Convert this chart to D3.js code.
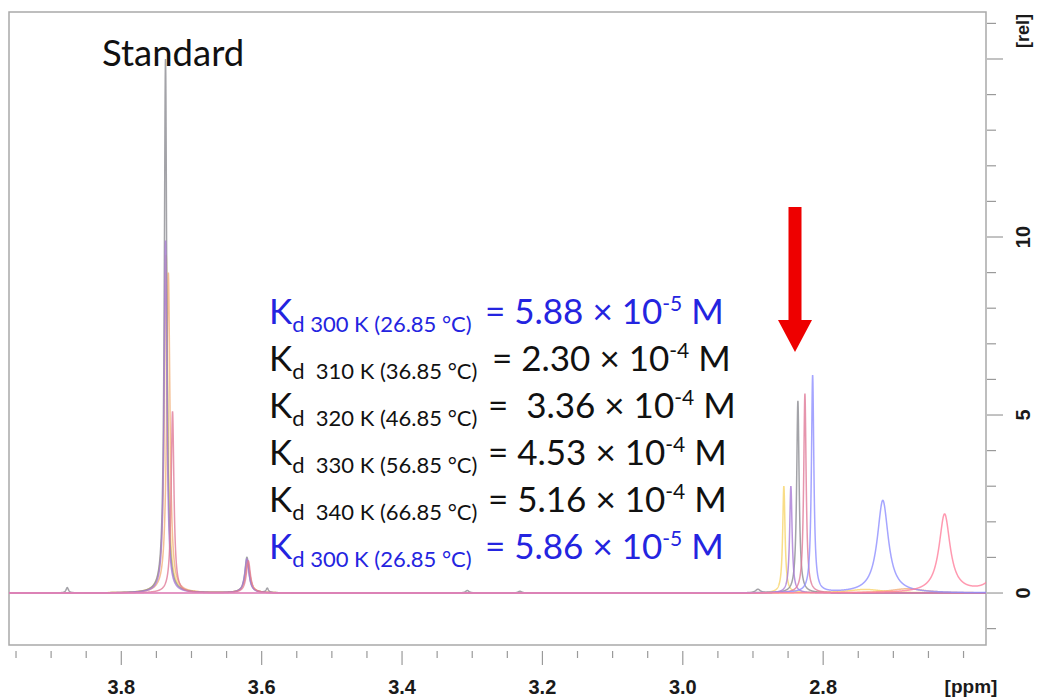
<!DOCTYPE html>
<html><head><meta charset="utf-8">
<script src="https://cdn.jsdelivr.net/npm/d3@7"></script>
<style>
html,body{margin:0;padding:0;background:#fff;}
svg{display:block;}
text{white-space:pre;}
</style></head>
<body>
<svg id="c" width="1039" height="700"></svg>
<script>
// ---- data (ppm, height [rel], half-width [ppm]) ----
const greyPeaks   = [[3.737,15.0,0.0021],[3.621,1.0,0.0035],[3.877,0.15,0.002],[3.592,0.12,0.002],[3.307,0.07,0.003],[3.232,0.05,0.003],[2.893,0.1,0.004],[2.836,5.4,0.0021]];
const purplePeaks = [[3.737,9.9,0.0023],[3.621,0.95,0.0035],[2.846,3.0,0.0021]];
const pinkPeaks   = [[3.727,5.1,0.0024],[3.619,0.9,0.0035],[2.826,5.6,0.0021]];
const yellowPeaks = [[3.736,9.5,0.0028],[3.620,0.9,0.0038],[2.856,3.0,0.002],[2.74,0.1,0.03]];
const orangePeaks = [[3.733,9.0,0.0028],[3.620,0.85,0.004],[2.68,0.12,0.03]];
const bluePeaks   = [[2.815,6.1,0.0021],[2.715,2.6,0.0095]];
const redPeaks    = [[2.627,2.2,0.0095],[2.545,1.5,0.01]];
const spectra = [
  {name:"yellow", peaks:yellowPeaks, color:"#f7d56a"},
  {name:"orange", peaks:orangePeaks, color:"#f2b07a"},
  {name:"grey",   peaks:greyPeaks,   color:"#8c8c92"},
  {name:"purple", peaks:purplePeaks, color:"#a97ad6"},
  {name:"pink",   peaks:pinkPeaks,   color:"#e07a98"},
  {name:"blue",   peaks:bluePeaks,   color:"#8e8eff"},
  {name:"red",    peaks:redPeaks,    color:"#ff7f9c"}
];
const xTicksMajor = [3.8,3.6,3.4,3.2,3.0,2.8];
const xTickLabels = ["3.8","3.6","3.4","3.2","3.0","2.8"];
const yTicksMajor = [0,5,10,15];
const yTickLabels = ["0","5","10",""];
const kdTemps = ["d 300 K (26.85 °C)","d  310 K (36.85 °C)","d  320 K (46.85 °C)","d  330 K (56.85 °C)","d  340 K (66.85 °C)","d 300 K (26.85 °C)"];
const kdMant  = ["= 5.88 × 10","= 2.30 × 10","=  3.36 × 10","= 4.53 × 10","= 5.16 × 10","= 5.86 × 10"];
const kdExp   = ["-5","-4","-4","-4","-4","-5"];
const kdBlue  = [true,false,false,false,false,true];

// ---- layout ----
const L=9, R=986, T=12, B=645;
const svg = d3.select("#c");
const x = d3.scaleLinear().domain([3.96,2.568]).range([L,R]);
const y = d3.scaleLinear().domain([-1.46,16.32]).range([B,T]);

svg.append("defs").append("clipPath").attr("id","clip")
  .append("rect").attr("x",L).attr("y",T).attr("width",R-L).attr("height",B-T);

// frame
svg.append("rect").attr("x",L).attr("y",T).attr("width",R-L).attr("height",B-T)
  .attr("fill","none").attr("stroke","#a9a9a9").attr("stroke-width",1.5);

// spectra: Lorentzian line shapes from the peak lists
const grid = d3.range(2.55,3.975,0.0002);
function shape(peaks){
  return grid.map(p=>{
    let v=0; for(const [c,h,w] of peaks){ const d=p-c; v+=h*w*w/(d*d+w*w);} return [p,v];
  });
}
const line = d3.line().x(d=>x(d[0])).y(d=>y(d[1]));
const g = svg.append("g").attr("clip-path","url(#clip)");
spectra.forEach(s=>{
  g.append("path").datum(shape(s.peaks)).attr("d",line)
    .attr("fill","none").attr("stroke",s.color).attr("stroke-width",1.5).attr("stroke-opacity",0.8);
});

// bottom axis
const xMinor = d3.range(3.95,2.57,-0.05).map(v=>+v.toFixed(2));
const xa = svg.append("g");
xa.selectAll("line.mi").data(xMinor).join("line")
  .attr("x1",d=>x(d)).attr("x2",d=>x(d)).attr("y1",B+6).attr("y2",d=>xTicksMajor.some(m=>Math.abs(m-d)<1e-6)?B+20:B+13)
  .attr("stroke","#9a9a9a").attr("stroke-width",1.2);
xa.selectAll("text").data(xTicksMajor).join("text")
  .attr("x",d=>x(d)).attr("y",694).attr("text-anchor","middle")
  .attr("font-family","Liberation Sans, Arial, sans-serif").attr("font-weight","bold").attr("font-size",20)
  .attr("fill","#1a1a1a").text((d,i)=>xTickLabels[i]);
xa.append("text").attr("x",971).attr("y",693).attr("text-anchor","middle")
  .attr("font-family","Liberation Sans, Arial, sans-serif").attr("font-weight","bold").attr("font-size",19)
  .attr("fill","#1a1a1a").text("[ppm]");

// right axis
const yMinor = d3.range(-1,17,1);
const ya = svg.append("g");
ya.selectAll("line").data(yMinor).join("line")
  .attr("x1",R+1).attr("x2",d=>yTicksMajor.includes(d)?R+17:R+10)
  .attr("y1",d=>y(d)).attr("y2",d=>y(d)).attr("stroke","#9a9a9a").attr("stroke-width",1.2);
ya.selectAll("text").data(yTicksMajor).join("text")
  .attr("transform",d=>`translate(1030,${y(d)}) rotate(-90)`).attr("text-anchor","middle")
  .attr("font-family","Liberation Sans, Arial, sans-serif").attr("font-weight","bold").attr("font-size",20)
  .attr("fill","#1a1a1a").text((d,i)=>yTickLabels[i]);
ya.append("text").attr("transform","translate(1029,31) rotate(-90)").attr("text-anchor","middle")
  .attr("font-family","Liberation Sans, Arial, sans-serif").attr("font-weight","bold").attr("font-size",18)
  .attr("fill","#1a1a1a").text("[rel]");

// annotations
const font = "Lato, 'Open Sans', sans-serif";
svg.append("text").attr("x",102).attr("y",66).attr("font-family",font).attr("font-size",36.5)
  .attr("fill","#111").text("Standard");

const eqX = [485,492,488,488,488,485];
kdTemps.forEach((t,i)=>{
  const yb = 324 + i*47;
  const col = kdBlue[i] ? "#2424e0" : "#111";
  const tx = svg.append("text").attr("x",269).attr("y",yb).attr("font-family",font).attr("fill",col).attr("font-size",35);
  tx.append("tspan").text("K");
  tx.append("tspan").attr("font-size",22).attr("dy",8).text(t);
  tx.append("tspan").attr("x",eqX[i]).attr("dy",-8).text(kdMant[i]);
  tx.append("tspan").attr("font-size",21).attr("dy",-13).text(kdExp[i]);
  tx.append("tspan").attr("dy",13).text(" M");
});

// red arrow
const ax = 795, aTop = 207, aBot = 352, headTop = 320;
svg.append("path")
  .attr("d",`M${ax-6.5},${aTop} L${ax+6.5},${aTop} L${ax+6.5},${headTop} L${ax+17},${headTop} L${ax},${aBot} L${ax-17},${headTop} L${ax-6.5},${headTop} Z`)
  .attr("fill","#ee0000");
</script>
</body></html>
